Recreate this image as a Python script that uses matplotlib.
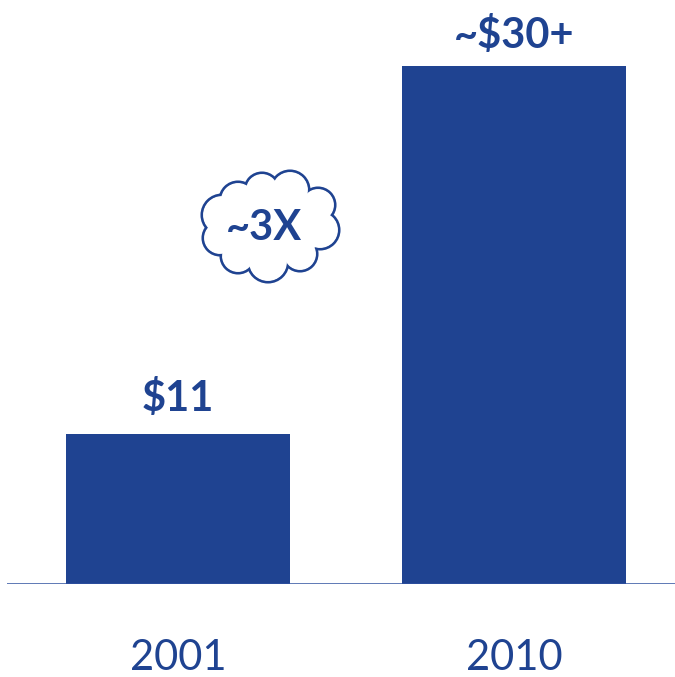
import matplotlib.pyplot as plt
from matplotlib.patches import Circle, Ellipse

years = ["2001", "2010"]
values = [11, 38]
value_labels = ["$11", "~$30+"]
growth_label = "~3X"

blue = "#1f4391"

fig = plt.figure(figsize=(6.75, 6.77), dpi=100)
ax = fig.add_axes([7 / 675, 93 / 677, 668 / 675, 545.5 / 677])

x = range(len(years))
ax.bar(x, values, width=0.667, color=blue, zorder=2)
ax.set_xlim(-0.509, 1.479)
ax.set_ylim(0, 40)
ax.axhline(0, color="#2f51a0", linewidth=1.8, zorder=3)

label_offsets = [2.6, 2.25]
for i, (v, lab) in enumerate(zip(values, value_labels)):
    ax.text(i, v + label_offsets[i], lab, ha="center", va="center", fontsize=30,
            fontweight="bold", color=blue, family="Lato")

for s in ax.spines.values():
    s.set_visible(False)
ax.set_xticks([])
ax.set_yticks([])
for i, yr in enumerate(years):
    ax.text(i, -5.4, yr, ha="center", va="center", fontsize=30,
            color=blue, family="Lato")

# cloud bubble drawn in pixel coordinates on an overlay
ov = fig.add_axes([0, 0, 1, 1])
ov.set_xlim(0, 675)
ov.set_ylim(677, 0)
ov.axis("off")
ov.patch.set_alpha(0)

puffs = [
    (238, 200, 18), (262, 190, 17), (290, 190, 19), (318, 205, 17),
    (320, 230, 19), (300, 254, 17), (268, 262, 20), (238, 256, 17),
    (220, 238, 17), (222, 215, 20),
]
for cx, cy, r in puffs:
    ov.add_patch(Circle((cx, cy), r, facecolor="none", edgecolor=blue,
                        linewidth=2.2, zorder=1))
for cx, cy, r in puffs:
    ov.add_patch(Circle((cx, cy), r - 1.1, facecolor="white",
                        edgecolor="none", zorder=2))
ov.add_patch(Ellipse((270, 227), 110, 70, facecolor="white",
                     edgecolor="none", zorder=2))
ov.text(264, 228, growth_label, ha="center", va="center", fontsize=30,
        fontweight="bold", color=blue, family="Lato", zorder=3)

fig.savefig("out.png", dpi=100)
